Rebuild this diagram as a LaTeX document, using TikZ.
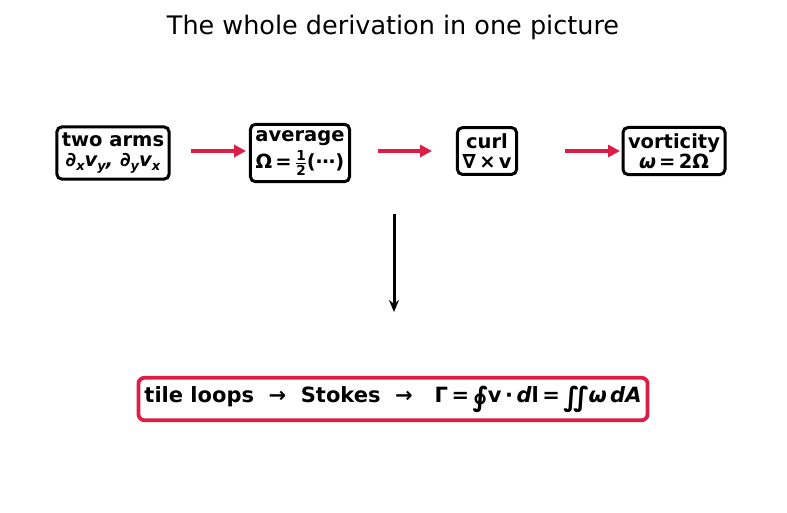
\documentclass[tikz,border=0pt]{standalone}
\usepackage{amsmath}
\usepackage{fontspec}
\setmainfont{DejaVu Sans}
\usetikzlibrary{arrows.meta}
\definecolor{crim}{RGB}{220,30,70}
\newcommand{\sbx}[1]{\raisebox{-0.35ex}{\fontsize{13}{13}\selectfont\bfseries\itshape #1}}
\newcommand{\hfr}{$\frac{\text{\bfseries 1}}{\text{\bfseries 2}}$}
\newcommand{\bigint}[1]{\raisebox{-0.3ex}{\fontsize{27}{27}\selectfont\bfseries #1}}
\tikzset{
  blk/.style={draw=black, line width=3pt, rounded corners=5pt, fill=white, align=center, font=\fontsize{19.5}{21}\selectfont\bfseries, inner xsep=5pt, inner ysep=6pt},
  redbox/.style={draw=crim, line width=3.8pt, rounded corners=6pt, fill=white, align=center, font=\fontsize{21}{23}\selectfont\bfseries, inner xsep=6pt, inner ysep=8pt},
  redarr/.style={draw=crim, line width=3.5pt, -{Triangle[length=12pt,width=12pt]}},
  blkarr/.style={draw=black, line width=3pt, -{Stealth[length=12pt,width=10pt]}}
}
\begin{document}
\begin{tikzpicture}[x=1pt,y=-1pt]
\useasboundingbox (0,0) rectangle (787,512);
\node (title) at (393,27) {\fontsize{25.5}{27}\selectfont The whole derivation in one picture};
\node[blk] (arms) at (113,153) {two arms\\[-1pt]{\itshape ∂\sbx{x}v\sbx{y},\ ∂\sbx{y}v\sbx{x}}};
\node[blk] (avg) at (300,153) {average\\[4pt]Ω\,=\,\hfr(⋯)};
\node[blk] (curl) at (487,151) {curl\\[-1pt]∇\,×\,v};
\node[blk] (vort) at (674,151) {vorticity\\[-1pt]{\itshape ω}\,=\,2Ω};
\coordinate (a1) at (191,151); \coordinate (b1) at (246,151);
\coordinate (a2) at (378,151); \coordinate (b2) at (432,151);
\coordinate (a3) at (565,151); \coordinate (b3) at (620,151);
\draw[redarr] (a1) -- (b1);
\draw[redarr] (a2) -- (b2);
\draw[redarr] (a3) -- (b3);
\coordinate (d1) at (394,214); \coordinate (d2) at (394,312);
\draw[blkarr] (d1) -- (d2);
\node[redbox] (final) at (393,399) {tile loops\ \ →\ \ Stokes\ \ →\ \ \ Γ\,=\,\bigint{∮}v\,·\,{\itshape d}l\,=\,\bigint{∬}{\itshape ω\,dA}};
\end{tikzpicture}
\end{document}
